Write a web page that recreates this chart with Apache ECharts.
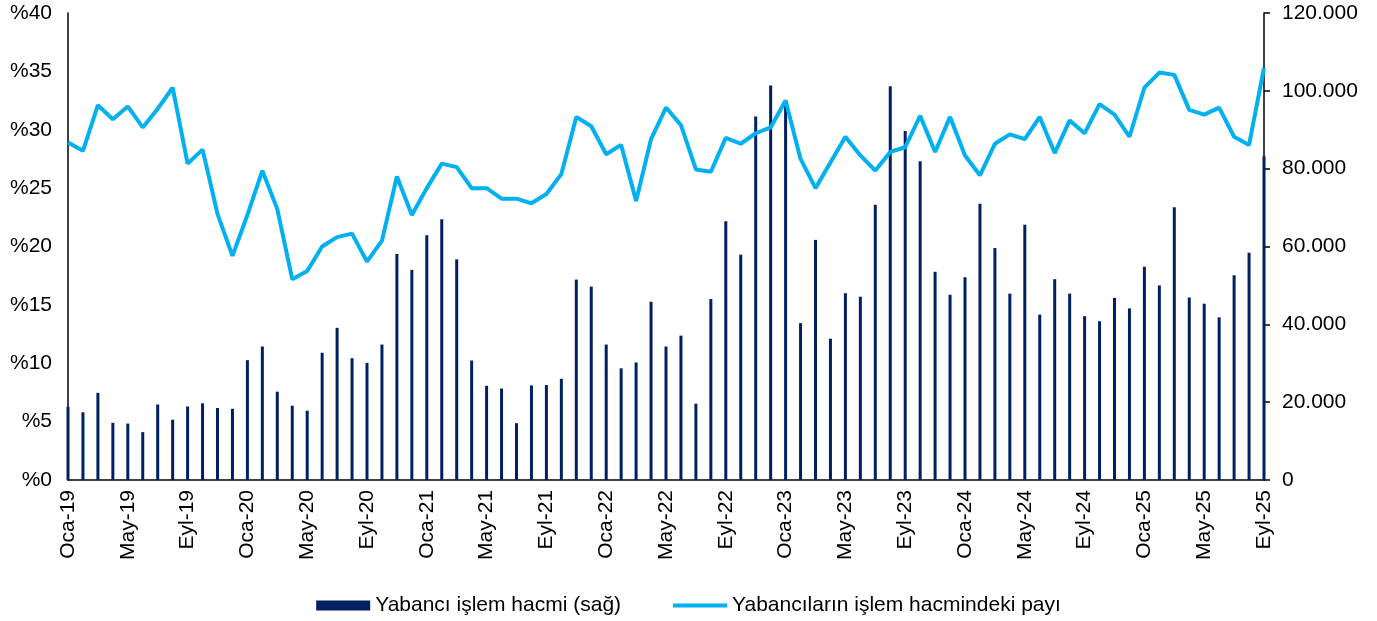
<!DOCTYPE html>
<html>
<head>
<meta charset="utf-8">
<script src="https://cdn.jsdelivr.net/npm/echarts@6/dist/echarts.min.js"></script>
<style>
  html, body { margin: 0; padding: 0; background: #fff; }
  #main { width: 1377px; height: 621px; }
</style>
</head>
<body>
<div id="main"></div>
<script>
// aylar: Oca-19 .. Eyl-25
var months = ['Oca', 'Şub', 'Mar', 'Nis', 'May', 'Haz', 'Tem', 'Ağu', 'Eyl', 'Eki', 'Kas', 'Ara'];
var years = ['19', '20', '21', '22', '23', '24', '25'];
var lastMonthCount = 9;

// Yabancı işlem hacmi (sağ eksen, bin)
var volume = [
  18.8, 17.4, 22.4, 14.7, 14.5, 12.3, 19.4, 15.5, 18.9, 19.7, 18.5, 18.3,
  30.8, 34.3, 22.7, 19.1, 17.8, 32.7, 39.1, 31.3, 30.1, 34.8, 58.1, 54.0,
  62.9, 67.0, 56.7, 30.7, 24.2, 23.5, 14.6, 24.3, 24.4, 26.0, 51.5, 49.7,
  34.8, 28.7, 30.2, 45.8, 34.3, 37.1, 19.6, 46.5, 66.5, 57.9, 93.4, 101.4,
  97.6, 40.3, 61.7, 36.3, 48.0, 47.1, 70.7, 101.2, 89.7, 81.9, 53.5, 47.6,
  52.1, 71.0, 59.6, 47.9, 65.6, 42.5, 51.6, 47.9, 42.1, 40.8, 46.8, 44.1,
  54.8, 50.0, 70.1, 46.9, 45.3, 41.8, 52.6, 58.4, 83.2
];

// Yabancıların işlem hacmindeki payı (%)
var share = [
  28.9, 28.2, 32.1, 30.9, 32.0, 30.2, 31.8, 33.6, 27.1, 28.3, 22.8, 19.2,
  22.7, 26.5, 23.2, 17.2, 17.9, 20.0, 20.8, 21.1, 18.7, 20.5, 26.0, 22.7,
  25.0, 27.1, 26.8, 25.0, 25.0, 24.1, 24.1, 23.7, 24.5, 26.2, 31.1, 30.3,
  27.9, 28.7, 23.9, 29.2, 31.9, 30.4, 26.6, 26.4, 29.3, 28.8, 29.7, 30.2,
  32.5, 27.5, 25.0, 27.2, 29.4, 27.8, 26.5, 28.1, 28.5, 31.2, 28.1, 31.1,
  27.8, 26.1, 28.8, 29.6, 29.2, 31.1, 28.0, 30.8, 29.7, 32.2, 31.3, 29.4,
  33.6, 34.9, 34.7, 31.7, 31.3, 31.9, 29.4, 28.7, 35.3
];

var categories = [];
years.forEach(function (y, yi) {
  var n = yi === years.length - 1 ? lastMonthCount : 12;
  for (var m = 0; m < n; m++) categories.push(months[m] + '-' + y);
});

var volumeData = volume.map(function (v) { return Math.round(v * 1000); });

function dotThousands(v) {
  return String(v).replace(/\B(?=(\d{3})+(?!\d))/g, '.');
}

var font = 'Liberation Sans, Arial, sans-serif';
var chart = echarts.init(document.getElementById('main'));
var option = {
  animation: false,
  textStyle: { fontFamily: font },
  grid: { left: 68, right: 113, top: 13, bottom: 141 },
  legend: {
    left: 'center',
    top: 590,
    itemGap: 50,
    itemWidth: 54,
    itemHeight: 10,
    textStyle: { fontSize: 21, color: '#000', fontFamily: font },
    data: [
      { name: 'Yabancı işlem hacmi (sağ)', icon: 'rect' },
      {
        name: 'Yabancıların işlem hacmindeki payı',
        itemStyle: { opacity: 0 },
        lineStyle: { width: 4, color: '#00B0F0' }
      }
    ]
  },
  xAxis: {
    type: 'category',
    data: categories,
    boundaryGap: false,
    axisLine: { lineStyle: { color: '#000', width: 1.5 } },
    axisTick: { show: false },
    axisLabel: {
      interval: 3,
      rotate: 90,
      margin: 10,
      fontSize: 21,
      color: '#000',
      fontFamily: font
    },
    splitLine: { show: false }
  },
  yAxis: [
    {
      type: 'value',
      min: 0,
      max: 40,
      interval: 5,
      axisLine: { show: true, lineStyle: { color: '#000', width: 1.5 } },
      axisTick: { show: false },
      axisLabel: {
        margin: 16,
        fontSize: 21,
        color: '#000',
        fontFamily: font,
        formatter: function (v) { return '%' + v; }
      },
      splitLine: { show: false }
    },
    {
      type: 'value',
      min: 0,
      max: 120000,
      interval: 20000,
      position: 'right',
      axisLine: { show: true, lineStyle: { color: '#000', width: 1.5 } },
      axisTick: { show: true, length: 6, lineStyle: { color: '#000', width: 1.5 } },
      axisLabel: {
        margin: 18,
        fontSize: 21,
        color: '#000',
        fontFamily: font,
        formatter: function (v) { return dotThousands(v); }
      },
      splitLine: { show: false }
    }
  ],
  series: [
    {
      name: 'Yabancı işlem hacmi (sağ)',
      type: 'bar',
      yAxisIndex: 1,
      data: volumeData,
      barWidth: 3,
      itemStyle: { color: '#002060' },
      z: 2
    },
    {
      name: 'Yabancıların işlem hacmindeki payı',
      type: 'line',
      yAxisIndex: 0,
      data: share,
      symbol: 'none',
      lineStyle: { color: '#00B0F0', width: 4 },
      itemStyle: { color: '#00B0F0' },
      z: 3
    }
  ]
};
chart.setOption(option);
</script>
</body>
</html>
